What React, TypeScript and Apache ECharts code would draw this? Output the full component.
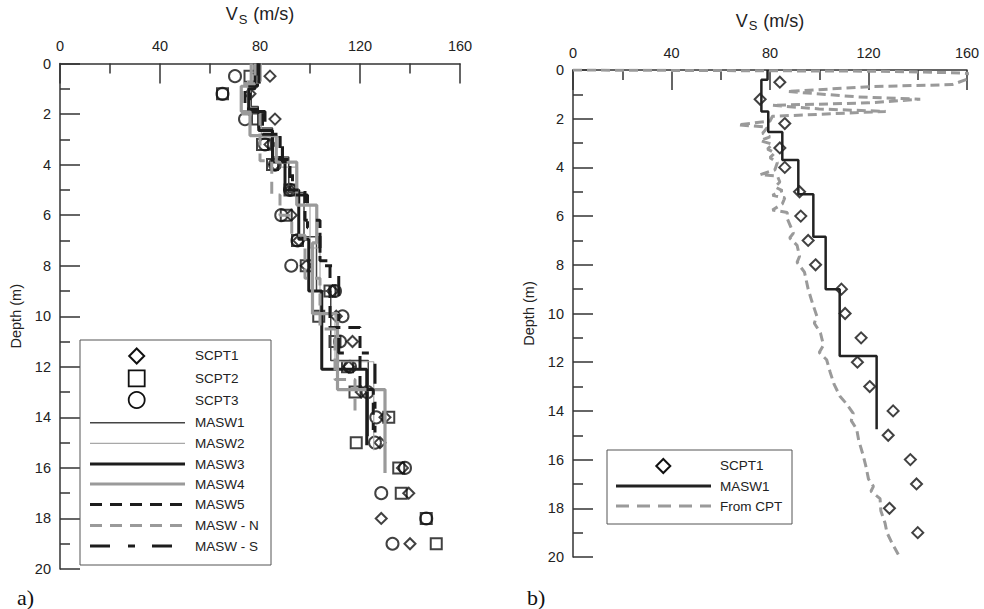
import React, { useEffect, useRef } from 'react';
import * as echarts from 'echarts';

const FONT = '"Liberation Sans", Arial, Helvetica, sans-serif';
const SERIF = '"Liberation Serif", "Times New Roman", serif';

// ---- axis ticks ----
const vsTicks = [0, 40, 80, 120, 160];
const depthTicks = [0, 2, 4, 6, 8, 10, 12, 14, 16, 18, 20];

// ---- SCPT point data (depth m, Vs m/s) ----
const scptDepth = [0.5, 1.2, 2.2, 3.2, 4, 5, 6, 7, 8, 9, 10, 11, 12, 13, 14, 15, 16, 17, 18, 19];
const scpt1Vs = [84, 76, 86, 84, 86, 92, 92.5, 95.5, 98.5, 109, 110.5, 117, 115.5, 120.5, 130, 128, 137, 139.5, 128.5, 140];
const scpt2Vs = [76, 65, 79, 81, 85, 92, 90.5, 95, 98.5, 108, 103.5, 110, 115, 118, 131.5, 118.5, 135.5, 136.5, 146.5, 150.5];
const scpt3Vs = [70, 65, 74, 82, 86, 92, 88.5, 95, 92.5, 110, 113, 112, 116, 123, 126.5, 126, 138, 128.5, 146.5, 133];

// ---- MASW layered profiles: layer boundaries (m) and layer Vs (m/s) ----
const masw1Depth = [0, 0.4, 1.7, 2.55, 3.7, 5.1, 6.85, 9.0, 11.75, 14.75];
const masw1Vs = [79, 76.5, 79.3, 85, 91.5, 97.6, 102.6, 108.3, 123.3];
const masw2Depth = [0, 0.7, 1.9, 2.9, 4.1, 5.6, 7.3, 9.9, 11.8, 15.3];
const masw2Vs = [80.5, 75, 80.5, 88.5, 95, 100, 104, 110, 125.5];
const masw3Depth = [0, 1.0, 1.9, 2.65, 3.9, 5.0, 6.95, 9.0, 12.1, 15.1];
const masw3Vs = [78, 75.5, 79.5, 85, 90, 95.5, 99.5, 104.7, 122.7];
const masw4Depth = [0, 0.9, 1.9, 2.85, 3.9, 5.6, 7.1, 9.9, 12.9, 16.2];
const masw4Vs = [76.5, 72.5, 76, 86.5, 94.7, 102.7, 101, 111, 130];
const masw5Depth = [0, 0.9, 1.8, 2.8, 3.8, 5.0, 6.2, 7.8, 10.45, 12.9, 14.5];
const masw5Vs = [79, 74, 81, 88, 92, 98, 104, 108, 120, 125.3];
const maswNDepth = [0, 0.8, 2.0, 3.85, 5.2, 6.0, 6.8, 8.5, 10.5, 12.5, 14.0];
const maswNVs = [78, 73, 80, 84.7, 88, 92.7, 98, 104, 110, 118];
const maswSDepth = [0, 1.0, 1.9, 2.8, 3.9, 5.2, 6.5, 8.0, 11.45, 14.6];
const maswSVs = [79.5, 76, 82, 89, 93, 99, 104, 111.5, 126];

// ---- Vs from CPT (depth m, Vs m/s) ----
const cptDepth = [0, 0.05, 0.12, 0.2, 0.6, 0.68, 0.88, 1.1, 1.2, 1.35, 1.45, 1.6, 1.7, 1.82, 1.9, 2.1, 2.25, 2.35, 2.6, 2.75, 2.9, 3.05, 3.25, 3.4, 3.6, 3.8, 4.1, 4.3, 4.35, 4.6, 4.8, 4.95, 5.15, 5.25, 5.5, 5.75, 5.85, 6.1, 6.7, 6.9, 7.2, 7.65, 7.9, 8.3, 9.0, 9.5, 10.1, 10.4, 10.8, 11.3, 11.6, 11.9, 12.4, 12.9, 13.4, 13.7, 14.1, 14.4, 14.75, 15.2, 15.85, 16.3, 16.8, 17.1, 17.3, 17.6, 18.1, 18.6, 19.0, 19.4, 19.9];
const cptVs = [0, 125, 158, 165, 154, 122, 87, 115, 141, 120, 81, 100, 127, 100, 81, 80, 67, 79, 77, 80, 76, 81, 79, 82, 80, 83, 82, 76, 83, 84, 82, 85, 81, 86, 85, 81, 87, 87, 89.5, 88, 91, 92, 91, 94, 95.5, 97, 99, 98, 100.5, 101.7, 100, 103, 104.4, 106, 108.4, 111, 113.8, 113, 115.2, 116, 117.9, 119, 120, 122, 121, 124.7, 125, 126.7, 127.5, 129.4, 132.1];

function steps(depths: number[], vs: number[]) {
  const pts: number[][] = [];
  for (let i = 0; i < vs.length; i++) {
    pts.push([vs[i], depths[i]]);
    pts.push([vs[i], depths[i + 1]]);
  }
  return pts;
}
function pairs(vs: number[], ds: number[]) {
  return vs.map((v, i) => [v, ds[i]]);
}

const AX = '#333';
const BLACK = '#1c1c1c';
const GRAY = '#9a9a9a';

function xAx(gridIndex: number) {
  return {
    type: 'value', gridIndex, position: 'top',
    min: vsTicks[0], max: vsTicks[vsTicks.length - 1], interval: vsTicks[1] - vsTicks[0],
    name: '{v|V}{s|S}{v| (m/s)}', nameLocation: 'middle', nameGap: 38,
    nameTextStyle: {
      rich: {
        v: { fontSize: 18, fontFamily: FONT, color: '#222' },
        s: { fontSize: 13, fontFamily: FONT, color: '#222', padding: [10, 1, 0, 1] },
      },
    },
    axisLine: { show: true, lineStyle: { color: AX, width: 1.5 } },
    axisTick: { show: true, inside: true, length: 20, lineStyle: { color: AX, width: 1.5 } },
    minorTick: { show: true, splitNumber: 2, length: 10, lineStyle: { color: AX, width: 1.5 } },
    axisLabel: { margin: 10, fontSize: 14.5, color: '#222', fontFamily: FONT },
    splitLine: { show: false },
    minorSplitLine: { show: false },
  };
}
function yAx(gridIndex: number) {
  return {
    type: 'value', gridIndex, inverse: true,
    min: depthTicks[0], max: depthTicks[depthTicks.length - 1], interval: depthTicks[1] - depthTicks[0],
    name: 'Depth (m)', nameLocation: 'middle', nameGap: 37, nameRotate: 90,
    nameTextStyle: { fontSize: 14.5, fontFamily: FONT, color: '#222' },
    axisLine: { show: true, lineStyle: { color: AX, width: 1.5 } },
    axisTick: { show: true, inside: true, length: 20, lineStyle: { color: AX, width: 1.5 } },
    minorTick: { show: true, splitNumber: 2, length: 10, lineStyle: { color: AX, width: 1.5 } },
    axisLabel: { margin: 9, fontSize: 14.5, color: '#222', fontFamily: FONT },
    splitLine: { show: false },
    minorSplitLine: { show: false },
  };
}

function stepLine(name: string, d: number[], v: number[], color: string, width: number, dash: any, axis: number) {
  return {
    name, type: 'line', xAxisIndex: axis, yAxisIndex: axis,
    data: steps(d, v), showSymbol: false, symbol: 'none', silent: true,
    lineStyle: { color, width, type: dash || 'solid', cap: 'butt' },
  };
}
function scatter(name: string, v: number[], d: number[], symbol: string, size: number, axis: number) {
  return {
    name, type: 'scatter', xAxisIndex: axis, yAxisIndex: axis, silent: true,
    data: pairs(v, d), symbol, symbolSize: size,
    itemStyle: { color: 'rgba(0,0,0,0)', borderColor: '#111', borderWidth: 2 },
  };
}

function legendLine(x1: number, x2: number, y: number, color: string, width: number, dash?: number[]) {
  return {
    type: 'line', z: 101, shape: { x1, y1: y, x2, y2: y },
    style: { stroke: color, lineWidth: width, lineDash: dash || null },
  };
}
function legendText(x: number, y: number, text: string) {
  return {
    type: 'text', z: 101, x, y,
    style: { text, fontSize: 13.5, fontFamily: FONT, fill: '#222', verticalAlign: 'middle', align: 'left' },
  };
}
function diamond(cx: number, cy: number, s: number) {
  const h = s / 2;
  return {
    type: 'polygon', z: 101,
    shape: { points: [[cx, cy - h], [cx + h, cy], [cx, cy + h], [cx - h, cy]] },
    style: { fill: 'none', stroke: '#111', lineWidth: 2 },
  };
}

export default function App() {
  const ref = useRef<HTMLDivElement>(null);
  useEffect(() => {
    const chart = echarts.init(ref.current!, null, { renderer: 'svg' });
    const dashA = [12, 8];
    const dashS = [20, 18, 7, 17];
    const option: any = {
      animation: false,
      backgroundColor: '#ffffff',
      grid: [
        { left: 60, top: 63, width: 400, height: 506 },
        { left: 573, top: 70, width: 394, height: 487 },
      ],
      xAxis: [xAx(0), xAx(1)],
      yAxis: [yAx(0), yAx(1)],
      series: [
        stepLine('MASW1', masw1Depth, masw1Vs, '#444', 1.5, null, 0),
        stepLine('MASW2', masw2Depth, masw2Vs, '#a8a8a8', 1.2, null, 0),
        stepLine('MASW3', masw3Depth, masw3Vs, BLACK, 3, null, 0),
        stepLine('MASW4', masw4Depth, masw4Vs, GRAY, 3.2, null, 0),
        stepLine('MASW5', masw5Depth, masw5Vs, BLACK, 3, dashA, 0),
        stepLine('MASW - N', maswNDepth, maswNVs, GRAY, 3, dashA, 0),
        stepLine('MASW - S', maswSDepth, maswSVs, BLACK, 3, dashS, 0),
        scatter('SCPT1', scpt1Vs, scptDepth, 'diamond', 11, 0),
        scatter('SCPT2', scpt2Vs, scptDepth, 'rect', 11, 0),
        scatter('SCPT3', scpt3Vs, scptDepth, 'circle', 12, 0),
        {
          name: 'From CPT', type: 'line', xAxisIndex: 1, yAxisIndex: 1, silent: true,
          data: pairs(cptVs, cptDepth), showSymbol: false, symbol: 'none', clip: true,
          lineStyle: { color: GRAY, width: 3, type: [9, 5] },
        },
        stepLine('MASW1 ', masw1Depth, masw1Vs, '#222', 2.5, null, 1),
        scatter('SCPT1 ', scpt1Vs, scptDepth, 'diamond', 11, 1),
      ],
      graphic: [
        // left legend
        { type: 'rect', z: 100, shape: { x: 80, y: 340, width: 191, height: 225 }, style: { fill: '#fff', stroke: '#555', lineWidth: 1 } },
        diamond(136.7, 356, 15),
        { type: 'rect', z: 101, shape: { x: 128.7, y: 370.3, width: 16, height: 16 }, style: { fill: 'none', stroke: '#111', lineWidth: 1.8 } },
        { type: 'circle', z: 101, shape: { cx: 136.7, cy: 400, r: 8 }, style: { fill: 'none', stroke: '#111', lineWidth: 1.8 } },
        legendLine(90, 185, 422.7, '#444', 1.5),
        legendLine(90, 185, 443.3, '#a8a8a8', 1.2),
        legendLine(90, 185, 464, BLACK, 3),
        legendLine(90, 185, 484, GRAY, 3.2),
        legendLine(90, 185, 504.5, BLACK, 3, dashA),
        legendLine(90, 185, 525.5, GRAY, 3, dashA),
        legendLine(90, 185, 546, BLACK, 3, dashS),
        legendText(195, 355.5, 'SCPT1'),
        legendText(195, 378, 'SCPT2'),
        legendText(195, 400.5, 'SCPT3'),
        legendText(195, 422.7, 'MASW1'),
        legendText(195, 443.3, 'MASW2'),
        legendText(195, 464, 'MASW3'),
        legendText(195, 484, 'MASW4'),
        legendText(195, 504.5, 'MASW5'),
        legendText(195, 525.5, 'MASW - N'),
        legendText(195, 546.5, 'MASW - S'),
        // right legend
        { type: 'rect', z: 100, shape: { x: 607, y: 450, width: 185, height: 74 }, style: { fill: '#fff', stroke: '#555', lineWidth: 1 } },
        diamond(663.3, 466, 14),
        legendLine(616, 711, 486, '#222', 3),
        legendLine(616, 711, 506, GRAY, 3, [13, 8]),
        legendText(720, 465.5, 'SCPT1'),
        legendText(720, 486, 'MASW1'),
        legendText(720, 506, 'From CPT'),
        // panel labels
        { type: 'text', x: 17, y: 597, style: { text: 'a)', fontSize: 22, fontFamily: SERIF, fill: '#111', verticalAlign: 'middle' } },
        { type: 'text', x: 527, y: 597, style: { text: 'b)', fontSize: 22, fontFamily: SERIF, fill: '#111', verticalAlign: 'middle' } },
      ],
    };
    chart.setOption(option);
    return () => chart.dispose();
  }, []);
  return (
    <div
      ref={ref}
      style={{ position: 'fixed', left: 0, top: 0, width: 984, height: 609, background: '#fff' }}
    />
  );
}
